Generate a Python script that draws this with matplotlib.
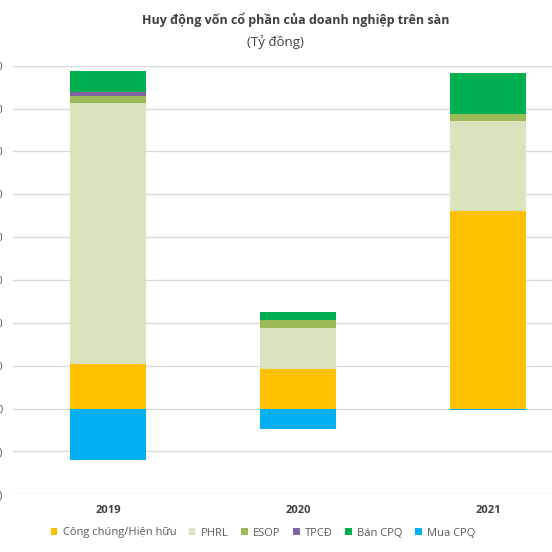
import matplotlib
matplotlib.use('Agg')
import matplotlib.pyplot as plt
import numpy as np

plt.rcParams['font.family'] = ['Open Sans', 'DejaVu Sans']

# data (ty dong)
years = ['2019', '2020', '2021']
cong_chung = [10300, 9200, 46000]
phrl = [61100, 9700, 21200]
esop = [1500, 1700, 1500]
tpcd = [1000, 0, 0]
ban_cpq = [4900, 1900, 9500]
mua_cpq = [-12100, -4700, -400]

series = [
    ('Công chúng/Hiện hữu', cong_chung, '#FFC000'),
    ('PHRL', phrl, '#D8E4BC'),
    ('ESOP', esop, '#9BBB59'),
    ('TPCĐ', tpcd, '#8064A2'),
    ('Bán CPQ', ban_cpq, '#00B050'),
    ('Mua CPQ', mua_cpq, '#00B0F0'),
]
yticks = np.arange(-20000, 80001, 10000)

fig = plt.figure(figsize=(5.52, 5.52), dpi=100)
ax = fig.add_axes([13 / 552, 1 - 494.3 / 552, 570 / 552, (494.3 - 65.7) / 552])

x = np.arange(len(years))
pos_base = np.zeros(len(years))
neg_base = np.zeros(len(years))
handles = []
for name, vals, color in series:
    vals = np.array(vals, dtype=float)
    base = np.where(vals >= 0, pos_base, neg_base)
    b = ax.bar(x, vals, width=0.4, bottom=base, color=color, label=name, zorder=3)
    handles.append(b)
    pos_base += np.where(vals > 0, vals, 0)
    neg_base += np.where(vals < 0, vals, 0)

# the reference image is cropped at the left, so the value labels are only partly visible
ax.set_xlim(-0.5, 2.5)
ax.set_ylim(-20000, 80000)
ax.set_yticks(yticks)
ax.set_yticklabels(['({:,})'.format(-v) if v < 0 else '{:,}'.format(v) for v in yticks],
                   color='#595959', fontsize=8)
ax.set_xticks(x)
ax.set_xticklabels(years, fontweight='bold', color='#404040', fontsize=8)
ax.tick_params(axis='both', length=0)
ax.tick_params(axis='x', pad=8)
ax.tick_params(axis='y', pad=7)
ax.grid(axis='y', color='#D9D9D9', linewidth=1, zorder=0)
for spine in ax.spines.values():
    spine.set_visible(False)

fig.text(296 / 552, 1 - 20 / 552, 'Huy động vốn cổ phần của doanh nghiệp trên sàn',
         ha='center', va='center', fontsize=9, fontweight='bold', color='#404040')
fig.text(275 / 552, 1 - 42 / 552, '(Tỷ đồng)', ha='center', va='center',
         fontsize=9.5, color='#404040')

leg = fig.legend(handles=handles, loc='center', bbox_to_anchor=(263 / 552, 1 - 533 / 552),
                 ncol=6, frameon=False, fontsize=8, handlelength=0.6, handleheight=0.6,
                 handletextpad=0.5, columnspacing=1.1)
for t in leg.get_texts():
    t.set_color('#595959')

fig.savefig('out.png', dpi=100)
